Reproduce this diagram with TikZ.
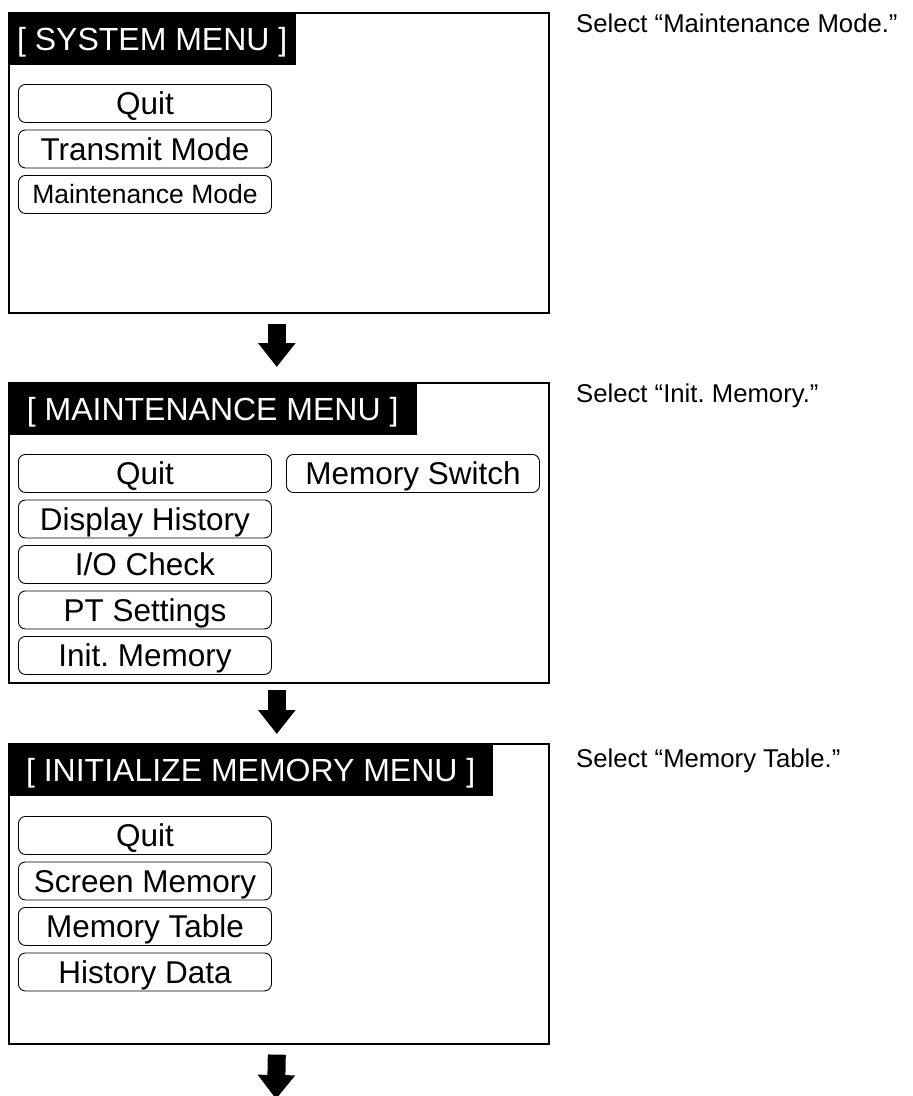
\documentclass[tikz,border=0pt]{standalone}
\usepackage{fontspec}
\setmainfont{Liberation Sans}
\usetikzlibrary{arrows.meta}
\frenchspacing
\begin{document}
\begin{tikzpicture}[x=1pt,y=-1pt,
  panel/.style={draw, line width=1.6pt, minimum width=540pt, minimum height=300pt, inner sep=0pt, anchor=north west},
  titlebox/.style={fill=black, text=white, minimum height=53pt, inner sep=0pt, anchor=north west,
    font=\fontsize{32}{38}\selectfont, text height=23pt, text depth=0pt},
  btn/.style={draw, line width=0.9pt, rounded corners=7pt, minimum width=253pt, minimum height=38pt,
    inner sep=0pt, anchor=north west, font=\fontsize{31.5}{38}\selectfont, text height=22.6pt, text depth=0pt},
  smallbtn/.style={btn, font=\fontsize{26.5}{32}\selectfont, text height=19pt},
  note/.style={anchor=base west, font=\fontsize{25.7}{30}\selectfont, inner sep=0pt},
  bigarrow/.style={line width=18pt, -{Triangle[length=24pt,width=36pt]}},
]
\useasboundingbox (0,0) rectangle (913,1096);

% ---------- panel 1 ----------
\node[panel] (p1) at (8,12) {};
\node[titlebox, minimum width=288pt] (t1) at (p1.north west) {[ SYSTEM MENU ]};
\node[btn] (p1quit) at (18,84) {Quit};
\node[btn] (p1trans) at (18,129.5) {Transmit Mode};
\node[smallbtn] (p1maint) at (18,175) {Maintenance Mode};
\node[note] (n1) at (576,32) {Select “Maintenance Mode.”};

% ---------- panel 2 ----------
\node[panel] (p2) at (8,382) {};
\node[titlebox, minimum width=409pt] (t2) at (p2.north west) {[ MAINTENANCE MENU ]};
\node[btn] (p2quit) at (18,454) {Quit};
\node[btn] (p2mswitch) at (286,454) {Memory Switch};
\node[btn] (p2disp) at (18,499.5) {Display History};
\node[btn] (p2io) at (18,545) {I/O Check};
\node[btn] (p2pt) at (18,590.5) {PT Settings};
\node[btn] (p2init) at (18,636) {Init. Memory};
\node[note] (n2) at (576,402) {Select “Init. Memory.”};

% ---------- panel 3 ----------
\node[panel] (p3) at (8,743) {};
\node[titlebox, minimum width=485pt] (t3) at (p3.north west) {[ INITIALIZE MEMORY MENU ]};
\node[btn] (p3quit) at (18,816) {Quit};
\node[btn] (p3screen) at (18,861.5) {Screen Memory};
\node[btn] (p3table) at (18,907) {Memory Table};
\node[btn] (p3hist) at (18,952.5) {History Data};
\node[note] (n3) at (576,767) {Select “Memory Table.”};

% ---------- arrows ----------
\coordinate (end3) at (276,1099);
\draw[bigarrow] ([xshift=-2pt,yshift=-10pt]p1.south) -- ([xshift=-2pt,yshift=15pt]p2.north);
\draw[bigarrow] ([xshift=-2pt,yshift=-6pt]p2.south) -- ([xshift=-2pt,yshift=9pt]p3.north);
\draw[bigarrow] ([xshift=-2pt,yshift=-10pt]p3.south) -- (end3);
\end{tikzpicture}
\end{document}
